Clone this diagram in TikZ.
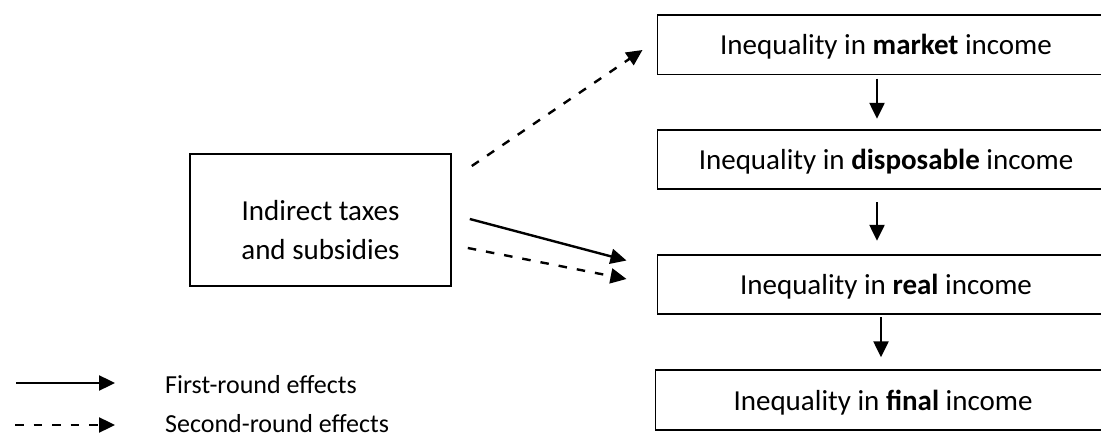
\documentclass[tikz,border=0pt]{standalone}
\usepackage{fontspec}
\setmainfont{Carlito}
\usetikzlibrary{arrows.meta,calc}
\begin{document}
\begin{tikzpicture}[x=1pt,y=-1pt,
  box/.style={minimum width=500pt,minimum height=59pt,inner sep=0pt,anchor=west},
  edge/.style={line width=1.6pt},
  taxbox/.style={draw,line width=1.6pt,minimum width=261pt,minimum height=132pt,inner sep=0pt},
  txt/.style={font=\fontsize{29}{35}\selectfont,anchor=base,inner sep=0pt},
  legtxt/.style={font=\fontsize{26}{31}\selectfont,anchor=base west,inner sep=0pt},
  arr/.style={line width=2.4pt,-{Triangle[length=16pt,width=15pt]}},
  dsh/.style={arr,dash pattern=on 8.5pt off 10pt}]
\useasboundingbox (0,0) rectangle (1101,438);
% right column boxes (their right sides lie beyond the picture)
\node[box] (mkt) at (657.5,45) {};
\node[box] (dis) at (657.5,159.5) {};
\node[box] (rea) at (657.5,284.5) {};
\node[box] (fin) at (655.5,400) {};
\foreach \b in {mkt,dis,rea,fin}
  \draw[edge] (\b.north east) -- (\b.north west) -- (\b.south west) -- (\b.south east);
\node[txt] (mktT) at (886,55) {Inequality in \textbf{market} income};
\node[txt] (disT) at (886,170) {Inequality in \textbf{disposable} income};
\node[txt] (reaT) at (886,294.5) {Inequality in \textbf{real} income};
\node[txt] (finT) at (883,410) {Inequality in \textbf{final} income};
% left box
\node[taxbox] (tax) at (320.5,220) {};
\node[txt] (tax1) at (320.5,221) {Indirect taxes};
\node[txt] (tax2) at (320.5,260) {and subsidies};
% vertical arrows
\coordinate (v1) at (877,0);
\coordinate (v3) at (881,0);
\draw[arr] ($(mkt.south -| v1)+(0,4)$) -- ($(dis.north -| v1)+(0,-11)$);
\draw[arr] ($(dis.south -| v1)+(0,13)$) -- ($(rea.north -| v1)+(0,-14)$);
\draw[arr] ($(rea.south -| v3)+(0,3)$) -- ($(fin.north -| v3)+(0,-13)$);
% effects from taxes
\draw[dsh] ($(tax.east)+(20,-54)$) -- ($(mkt.west)+(-15,5)$);
\draw[arr] ($(tax.east)+(18,-1)$) -- ($(rea.west)+(-31,-24)$);
\draw[dsh] ($(tax.east)+(16,28)$) -- ($(rea.west)+(-31,-5.5)$);
% legend
\coordinate (l1a) at (16,383);
\coordinate (l1b) at (115,383);
\coordinate (l2a) at (15,425);
\coordinate (l2b) at (115,425);
\draw[arr] (l1a) -- (l1b);
\draw[dsh] (l2a) -- (l2b);
\node[legtxt] (leg1) at (165,393) {First-round effects};
\node[legtxt] (leg2) at (165,432) {Second-round effects};
\end{tikzpicture}
\end{document}
